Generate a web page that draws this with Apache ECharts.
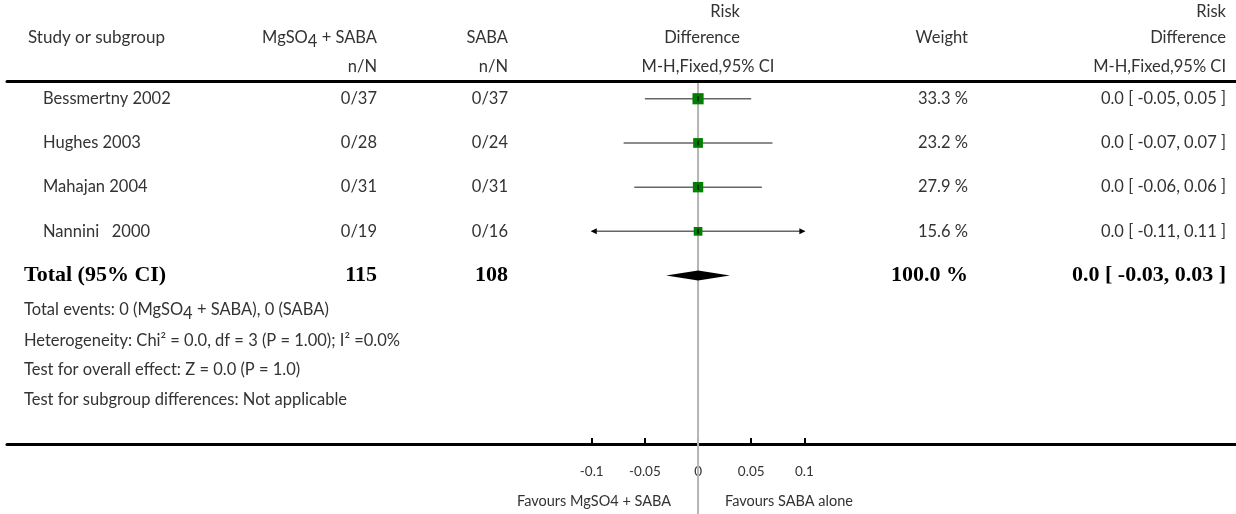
<!DOCTYPE html>
<html>
<head>
    <meta charset="utf-8" />
    <title>MgSO4 + SABA vs SABA - Risk Difference</title>
    <script src="https://cdn.jsdelivr.net/npm/echarts@6/dist/echarts.min.js"></script>
    <style>
        html, body { margin: 0; padding: 0; background: #fff; }
        #main { width: 1236px; height: 514px; }
    </style>
</head>
<body>
<div id="main"></div>
<script type="text/javascript">
    // studies (one row each)
    var studies = ['Bessmertny 2002', 'Hughes 2003', 'Mahajan 2004', 'Nannini   2000'];
    var treatNN = ['0/37', '0/28', '0/31', '0/19'];
    var controlNN = ['0/37', '0/24', '0/31', '0/16'];
    var weights = [33.3, 23.2, 27.9, 15.6];
    var estimates = [0.0, 0.0, 0.0, 0.0];
    var ciLower = [-0.05, -0.07, -0.06, -0.11];
    var ciUpper = [0.05, 0.07, 0.06, 0.11];

    // pooled total
    var totalLabel = 'Total (95% CI)';
    var totalTreat = 115;
    var totalControl = 108;
    var totalWeight = 100.0;
    var totalEstimate = 0.0;
    var totalLower = -0.03;
    var totalUpper = 0.03;

    // axis
    var xTicks = [-0.1, -0.05, 0, 0.05, 0.1];
    var xTickLabels = ['-0.1', '-0.05', '0', '0.05', '0.1'];
    var favoursLeft = 'Favours MgSO4 + SABA';
    var favoursRight = 'Favours SABA alone';

    var FONT = 'Lato, "Open Sans", sans-serif';
    var SERIF = '"Liberation Serif", "DejaVu Serif", serif';
    var TXT = '#333';
    var FS = 16.5;

    // column anchors (px)
    var col = { study: 28, name: 43, treat: 377, control: 508, rdHead: 740, mh: 708, weight: 968, ci: 1226 };

    var xMin = -0.65, xMax = 0.506;
    var yMin = -0.39, yMax = 7.81;
    var limit = xTicks[xTicks.length - 1];

    var chart = echarts.init(document.getElementById('main'));

    function fmtCI(e, lo, hi) {
        return e.toFixed(1) + ' [ ' + lo.toFixed(2) + ', ' + hi.toFixed(2) + ' ]';
    }

    function txt(x, y, text, align, extra) {
        var s = {
            x: x, y: y, text: text, align: align || 'left', verticalAlign: 'middle',
            fill: TXT, fontSize: FS, fontFamily: FONT
        };
        for (var k in extra) s[k] = extra[k];
        return { type: 'text', style: s };
    }

    function renderStudy(params, api) {
        var i = params.dataIndex;
        var row = api.value(0);
        var y = api.coord([0, row])[1];
        var lo = ciLower[i], hi = ciUpper[i];
        var p0 = api.coord([Math.max(lo, -limit), row]);
        var p1 = api.coord([Math.min(hi, limit), row]);
        var pc = api.coord([estimates[i], row]);
        var size = 6.5 + weights[i] * 0.14;
        var children = [
            { type: 'line', shape: { x1: p0[0], y1: y, x2: p1[0], y2: y },
              style: { stroke: '#666', lineWidth: 1.5 } }
        ];
        if (lo < -limit) {
            children.push({ type: 'polygon', shape: { points: [[p0[0] - 1, y], [p0[0] + 5, y - 3], [p0[0] + 5, y + 3]] },
                style: { fill: '#000' } });
        }
        if (hi > limit) {
            children.push({ type: 'polygon', shape: { points: [[p1[0] + 1, y], [p1[0] - 5, y - 3], [p1[0] - 5, y + 3]] },
                style: { fill: '#000' } });
        }
        children.push({ type: 'rect', shape: { x: pc[0] - size / 2, y: y - size / 2, width: size, height: size },
            style: { fill: '#008000' } });
        children.push({ type: 'line', shape: { x1: pc[0], y1: y - 2.5, x2: pc[0], y2: y + 2.5 },
            style: { stroke: '#111', lineWidth: 1.5 } });
        children.push(txt(col.name, y, studies[i], 'left'));
        children.push(txt(col.treat, y, treatNN[i], 'right'));
        children.push(txt(col.control, y, controlNN[i], 'right'));
        children.push(txt(col.weight, y, weights[i].toFixed(1) + ' %', 'right'));
        children.push(txt(col.ci, y, fmtCI(estimates[i], lo, hi), 'right'));
        return { type: 'group', children: children };
    }

    function renderTotal(params, api) {
        var row = api.value(0);
        var y = api.coord([0, row])[1];
        var pl = api.coord([totalLower, row]);
        var pr = api.coord([totalUpper, row]);
        var pc = api.coord([totalEstimate, row]);
        var bold = { fill: '#000', fontSize: 22, fontFamily: SERIF, fontWeight: 'bold' };
        return { type: 'group', children: [
            { type: 'polygon', shape: { points: [[pl[0], y], [pc[0], y - 5], [pr[0], y], [pc[0], y + 5]] },
              style: { fill: '#000' } },
            txt(24, y, totalLabel, 'left', bold),
            txt(col.treat, y, String(totalTreat), 'right', bold),
            txt(col.control, y, String(totalControl), 'right', bold),
            txt(col.weight, y, totalWeight.toFixed(1) + ' %', 'right', bold),
            txt(col.ci, y, fmtCI(totalEstimate, totalLower, totalUpper), 'right', bold)
        ] };
    }

    function renderZero(params, api) {
        var top = api.coord([0, yMin]);
        var x = top[0];
        var h = api.getHeight();
        return { type: 'group', children: [
            { type: 'line', shape: { x1: x, y1: top[1] + 1.5, x2: x, y2: h },
              style: { stroke: '#b5b5b5', lineWidth: 2 } },
            txt(x - 27, 501, favoursLeft, 'right', { fontSize: 14.5 }),
            txt(x + 27, 501, favoursRight, 'left', { fontSize: 14.5 })
        ] };
    }

    var studyData = studies.map(function (s, i) { return [i, estimates[i], ciLower[i], ciUpper[i]]; });

    var sub = { fontSize: FS, fontFamily: FONT, fill: TXT, padding: [7, 0, 0, 0] };
    var norm = { fontSize: FS, fontFamily: FONT, fill: TXT };

    var option = {
        animation: false,
        grid: { left: 7, right: 0, top: 81.5, bottom: 70 },
        xAxis: [{
            type: 'value', min: xMin, max: xMax, position: 'bottom',
            axisLine: { show: true, onZero: false, lineStyle: { color: '#000', width: 3 } },
            axisTick: { show: true, inside: true, length: 6, customValues: xTicks,
                lineStyle: { color: '#000', width: 2 } },
            axisLabel: { show: true, customValues: xTicks, margin: 21, fontSize: 13.5, color: TXT,
                fontFamily: FONT,
                formatter: function (v) {
                    for (var i = 0; i < xTicks.length; i++) if (Math.abs(xTicks[i] - v) < 1e-9) return xTickLabels[i];
                    return '';
                } },
            splitLine: { show: false }
        }, {
            type: 'value', min: xMin, max: xMax, position: 'top',
            axisLine: { show: true, onZero: false, lineStyle: { color: '#000', width: 3 } },
            axisTick: { show: false }, axisLabel: { show: false }, splitLine: { show: false }
        }],
        yAxis: { type: 'value', inverse: true, min: yMin, max: yMax, show: false },
        graphic: [
            txt(28, 38, 'Study or subgroup', 'left', { fontSize: 17 }),
            { type: 'text', style: { x: col.treat, y: 38, align: 'right', verticalAlign: 'middle',
                text: '{n|MgSO}{s|4}{n| + SABA}', rich: { n: norm, s: sub } } },
            txt(col.treat, 67, 'n/N', 'right'),
            txt(col.control, 38, 'SABA', 'right'),
            txt(col.control, 67, 'n/N', 'right'),
            txt(col.rdHead, 12, 'Risk', 'right'),
            txt(col.rdHead, 38, 'Difference', 'right'),
            txt(col.mh, 67, 'M-H,Fixed,95% CI', 'center'),
            txt(col.weight, 38, 'Weight', 'right'),
            txt(col.ci, 12, 'Risk', 'right'),
            txt(col.ci, 38, 'Difference', 'right'),
            txt(col.ci, 67, 'M-H,Fixed,95% CI', 'right'),
            { type: 'text', style: { x: 24, y: 310, align: 'left', verticalAlign: 'middle',
                text: '{n|Total events: 0 (MgSO}{s|4}{n| + SABA), 0 (SABA)}', rich: { n: norm, s: sub } } },
            txt(24, 341, 'Heterogeneity: Chi\u00b2 = 0.0, df = 3 (P = 1.00); I\u00b2 =0.0%', 'left'),
            txt(24, 370, 'Test for overall effect: Z = 0.0 (P = 1.0)', 'left'),
            txt(24, 400, 'Test for subgroup differences: Not applicable', 'left')
        ],
        series: [
            { type: 'custom', name: 'zero', data: [[0]], renderItem: renderZero, z: 1, silent: true },
            { type: 'custom', name: 'studies', data: studyData, renderItem: renderStudy, z: 2,
              encode: { x: [1, 2, 3], y: 0 } },
            { type: 'custom', name: 'total', data: [[studies.length, totalEstimate, totalLower, totalUpper]],
              renderItem: renderTotal, z: 2, encode: { x: [1, 2, 3], y: 0 } }
        ]
    };
    chart.setOption(option);
</script>
</body>
</html>
